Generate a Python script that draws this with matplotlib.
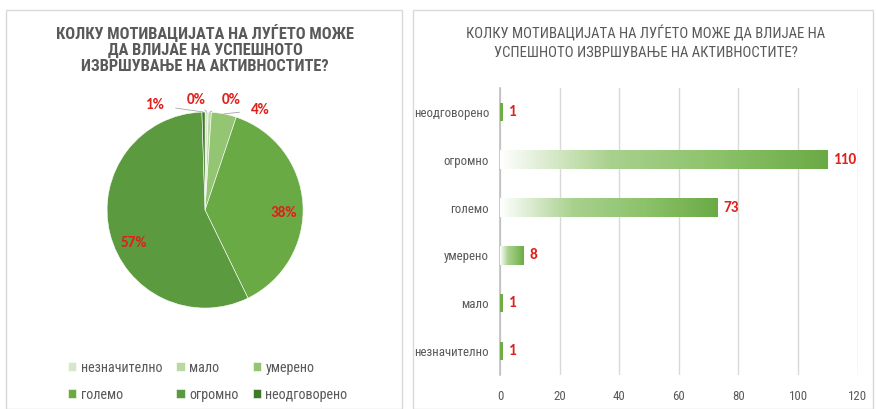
import matplotlib.pyplot as plt
import numpy as np
from matplotlib.colors import LinearSegmentedColormap
from matplotlib.patches import Rectangle

plt.rcParams["font.family"] = ["Roboto Condensed", "DejaVu Sans"]

categories = ["незначително", "мало", "умерено", "големо", "огромно", "неодговорено"]
counts = [1, 1, 8, 73, 110, 1]
pie_labels = ["0%", "0%", "4%", "38%", "57%", "1%"]
pie_colors = ["#d6e8c9", "#b9d8a2", "#93c572", "#6aaa45", "#5b9a3e", "#3f7a2a"]
title_pie = "КОЛКУ МОТИВАЦИЈАТА НА ЛУЃЕТО МОЖЕ\nДА ВЛИЈАЕ НА УСПЕШНОТО\nИЗВРШУВАЊЕ НА АКТИВНОСТИТЕ?"
title_bar = "КОЛКУ МОТИВАЦИЈАТА НА ЛУЃЕТО МОЖЕ ДА ВЛИЈАЕ НА\nУСПЕШНОТО ИЗВРШУВАЊЕ НА АКТИВНОСТИТЕ?"

gray_text = "#595959"
red = "#e0201b"
label_font = ["Carlito", "DejaVu Sans"]

fig = plt.figure(figsize=(8.76, 4.09), dpi=100)

# panel frames
for x0, w in [(0.007, 0.452), (0.472, 0.525)]:
    fig.patches.append(Rectangle((x0, 0.0), w, 0.975, transform=fig.transFigure,
                                 fill=False, edgecolor="#d9d9d9", linewidth=1.0))

# ---- pie ----
fig.text(0.234, 0.942, title_pie, ha="center", va="top", fontsize=11.8,
         fontweight="bold", color=gray_text, linespacing=1.08)

ax1 = fig.add_axes([0.0886, 0.175, 0.291, 0.623])
wedges, _ = ax1.pie(counts, colors=pie_colors, startangle=90, counterclock=False,
                    radius=1.0, wedgeprops=dict(edgecolor="white", linewidth=0.4))
ax1.set_xlim(-1.3, 1.3)
ax1.set_ylim(-1.3, 1.3)
ax1.set_aspect("equal", adjustable="box")
ax1.axis("off")

# text positions in pie units
label_pos = [(-0.09, 1.12), (0.27, 1.12), (0.56, 1.02), (0.80, -0.03), (-0.73, -0.34), (-0.51, 1.07)]
for w, lab, (tx, ty) in zip(wedges, pie_labels, label_pos):
    ang = np.deg2rad((w.theta1 + w.theta2) / 2)
    ex, ey = np.cos(ang), np.sin(ang)
    if abs(w.theta2 - w.theta1) < 30:
        ax1.annotate(lab, xy=(ex, ey), xytext=(tx, ty), ha="center", va="center",
                     fontsize=11, fontweight="bold", color=red, family=label_font,
                     arrowprops=dict(arrowstyle="-", color="#a6a6a6", lw=0.6, shrinkA=6, shrinkB=0))
    else:
        ax1.text(tx, ty, lab, ha="center", va="center", fontsize=11,
                 fontweight="bold", color=red, family=label_font)

order = [0, 3, 1, 4, 2, 5]
leg = fig.legend([wedges[i] for i in order], [categories[i] for i in order],
                 loc="center", bbox_to_anchor=(0.237, 0.068), ncol=3, frameon=False,
                 fontsize=10.2, handlelength=0.6, handleheight=0.6, handletextpad=0.3,
                 columnspacing=1.0, labelspacing=0.9, labelcolor=gray_text)

# ---- bar ----
fig.text(0.737, 0.937, title_bar, ha="center", va="top", fontsize=10.6,
         color=gray_text, linespacing=1.35)

ax2 = fig.add_axes([0.571, 0.083, 0.408, 0.702])
ypos = np.arange(len(categories))
cmap = LinearSegmentedColormap.from_list("g", ["#ffffff", "#a9d18e", "#8cc26a", "#6aaa45"])
grad = np.linspace(0, 1, 256).reshape(1, -1)
bar_h = 0.38
for y, v in zip(ypos, counts):
    if v <= 2:
        ax2.barh(y, v, height=bar_h, color="#70ad47", zorder=3)
    else:
        ax2.imshow(grad, cmap=cmap, extent=[0, v, y - bar_h / 2, y + bar_h / 2],
                   aspect="auto", zorder=3)
    ax2.text(v + 2.0, y, str(v), ha="left", va="center", fontsize=11,
             fontweight="bold", color=red, family=label_font, zorder=4)

ax2.set_xlim(0, 120)
ax2.set_ylim(-0.5, len(categories) - 0.5)
ax2.set_xticks(np.arange(0, 121, 20))
ax2.set_yticks(ypos)
ax2.set_yticklabels(categories)
ax2.xaxis.grid(True, color="#d9d9d9", linewidth=1.0, zorder=0)
ax2.set_axisbelow(True)
for s in ["top", "right", "bottom"]:
    ax2.spines[s].set_visible(False)
ax2.spines["left"].set_color("#bfbfbf")
ax2.spines["left"].set_linewidth(1.2)
ax2.tick_params(axis="both", length=0, labelsize=9.3, labelcolor=gray_text)
ax2.tick_params(axis="y", pad=8)
ax2.tick_params(axis="x", pad=11)

fig.savefig("out.png", dpi=100)
